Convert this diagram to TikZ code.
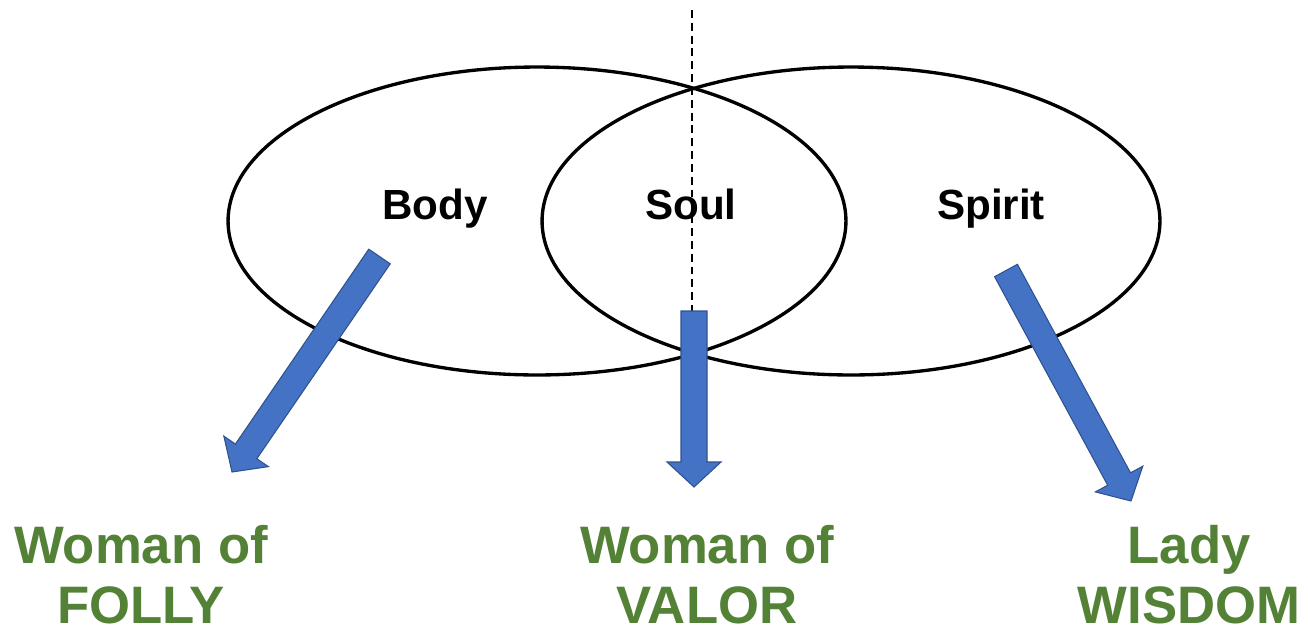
\documentclass[tikz,border=0pt]{standalone}
\usepackage{fontspec}
\setmainfont{Liberation Sans}
\usetikzlibrary{calc}

\definecolor{arrowblue}{HTML}{4472C4}
\definecolor{arrowedge}{HTML}{2F528F}
\definecolor{labelgreen}{HTML}{538135}

\tikzset{
  realm/.style={draw=black, line width=1.9pt},
  realmname/.style={font=\fontsize{24}{28}\selectfont\bfseries, anchor=base, inner sep=0pt},
  womanname/.style={font=\fontsize{30}{34}\selectfont\bfseries, text=labelgreen,
    align=center, anchor=north, inner sep=0pt},
  fatarrow/.style={fill=arrowblue, draw=arrowedge, line width=0.6pt, line join=miter}
}

% block arrow from tail #1 to tip #2
\newcommand{\fatarrow}[2]{%
  \coordinate (#1-h) at ($(#2)!0.5cm!(#1)$);
  \filldraw[fatarrow] ($(#1)!0.26cm!90:(#2)$) -- ($(#1-h)!0.26cm!90:(#2)$)
    -- ($(#1-h)!0.54cm!90:(#2)$) -- (#2) -- ($(#1-h)!0.54cm!-90:(#2)$)
    -- ($(#1-h)!0.26cm!-90:(#2)$) -- ($(#1)!0.26cm!-90:(#2)$) -- cycle;}

\begin{document}
\begin{tikzpicture}[x=0.02cm, y=-0.02cm]
\useasboundingbox (0,0) rectangle (1308,633);
%
\draw[realm] (537,221) ellipse [x radius=6.18cm, y radius=3.08cm];
\draw[realm] (851,221) ellipse [x radius=6.18cm, y radius=3.08cm];
\draw[line width=0.75pt, dash pattern=on 4.5pt off 2.8pt] (692,10) -- (692,311);
%
\node[realmname] (body) at (435,219) {Body};
\node[realmname] (soul) at (691,219) {Soul};
\node[realmname] (spirit) at (991,219) {Spirit};
%
\node[womanname] (folly) at (141,525) {Woman of\\FOLLY};
\node[womanname] (valor) at (707,525) {Woman of\\VALOR};
\node[womanname] (wisdom) at (1189,525) {Lady\\WISDOM};
%
\coordinate (bodytail) at (379.5,256.5);
\coordinate (follytip) at (232,472);
\coordinate (soultail) at (694,311);
\coordinate (valortip) at (694,487);
\coordinate (spirittail) at (1006,270.5);
\coordinate (wisdomtip) at (1131,501);
\fatarrow{bodytail}{follytip}
\fatarrow{soultail}{valortip}
\fatarrow{spirittail}{wisdomtip}
\end{tikzpicture}
\end{document}
